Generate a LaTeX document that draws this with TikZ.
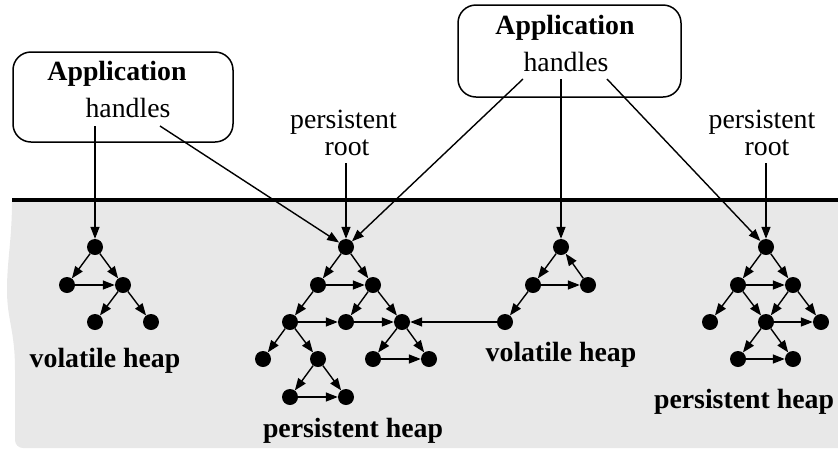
\documentclass[tikz,border=0pt]{standalone}
\usepackage{fontspec}
\setmainfont{Liberation Serif}
\usetikzlibrary{arrows.meta}
\definecolor{heapgray}{RGB}{232,232,232}
\begin{document}
\begin{tikzpicture}[x=1pt,y=-1pt,
  dot/.style={circle,fill=black,inner sep=0pt,minimum size=16pt},
  conn/.style={line width=1.4pt,-{Triangle[length=12pt,width=9pt]}},
  lbl/.style={font=\fontsize{27.8}{28}\selectfont,inner sep=0pt,anchor=base},
  blbl/.style={font=\fontsize{27.8}{28}\selectfont\bfseries,inner sep=0pt,anchor=base},
  appbox/.style={draw,line width=1.5pt,rounded corners=18pt,inner sep=0pt}]
\useasboundingbox (0,0) rectangle (838,451);
% gray region
\fill[heapgray] (12,200) -- (838,200) -- (838,448) -- (23,448)
  to[out=180,in=270] (15,440) -- (15,370)
  .. controls (15,330) and (7,320) .. (7,290)
  .. controls (7,260) and (12,240) .. (12,200) -- cycle;
\draw[line width=3.5pt] (12,200) -- (838,200);

% application boxes
\node[appbox,minimum width=220pt,minimum height=90pt] (app1) at (123,97) {};
\node[blbl] (app1t) at (117,80) {Application};
\node[lbl] (app1h) at (128,117.7) {handles};
\coordinate (h1a) at (95,126);
\coordinate (h1b) at (160,126);

\node[appbox,minimum width=223pt,minimum height=92pt] (app2) at (569.5,51) {};
\node[blbl] (app2t) at (565,34) {Application};
\node[lbl] (app2h) at (566,71) {handles};
\coordinate (h2a) at (523,79);
\coordinate (h2b) at (561,79);
\coordinate (h2c) at (607,79);

% persistent root labels
\node[lbl] (pr1a) at (343.5,128) {persistent};
\node[lbl] (pr1b) at (347,155) {root};
\coordinate (r1) at (346,163);
\node[lbl] (pr2a) at (762,128) {persistent};
\node[lbl] (pr2b) at (767,155) {root};
\coordinate (r2) at (766,163);

% volatile heap 1
\node[dot] (v1) at (95,247) {};
\node[dot] (v2) at (67,285) {};
\node[dot] (v3) at (123,285) {};
\node[dot] (v4) at (95,322) {};
\node[dot] (v5) at (151,322) {};

% persistent heap 1
\node[dot] (p1) at (346,247) {};
\node[dot] (p2) at (318,285) {};
\node[dot] (p3) at (373,285) {};
\node[dot] (p4) at (290,322) {};
\node[dot] (p5) at (346,322) {};
\node[dot] (p6) at (402,322) {};
\node[dot] (p7) at (263,359) {};
\node[dot] (p8) at (318,359) {};
\node[dot] (p9) at (373,359) {};
\node[dot] (p10) at (429,359) {};
\node[dot] (p11) at (290,397) {};
\node[dot] (p12) at (346,397) {};

% volatile heap 2
\node[dot] (w1) at (561,247) {};
\node[dot] (w2) at (533,285) {};
\node[dot] (w3) at (588,285) {};
\node[dot] (w4) at (505,322) {};

% persistent heap 2
\node[dot] (q1) at (766,247) {};
\node[dot] (q2) at (738,285) {};
\node[dot] (q3) at (793,285) {};
\node[dot] (q4) at (710,322) {};
\node[dot] (q5) at (766,322) {};
\node[dot] (q6) at (821,322) {};
\node[dot] (q7) at (738,359) {};
\node[dot] (q8) at (793,359) {};

% heap labels
\node[blbl] (lv1) at (105,367) {volatile heap};
\node[blbl] (lp1) at (353,437) {persistent heap};
\node[blbl] (lv2) at (561,361) {volatile heap};
\node[blbl] (lp2) at (744,408) {persistent heap};

% handle / root connectors
\draw[conn] (h1a) -- (v1);
\draw[conn] (h1b) -- (p1);
\draw[conn] (h2a) -- (p1);
\draw[conn] (h2b) -- (w1);
\draw[conn] (h2c) -- (q1);
\draw[conn] (r1) -- (p1);
\draw[conn] (r2) -- (q1);

% volatile heap 1 edges
\draw[conn] (v1) -- (v2);
\draw[conn] (v1) -- (v3);
\draw[conn] (v2) -- (v3);
\draw[conn] (v3) -- (v4);
\draw[conn] (v3) -- (v5);

% persistent heap 1 edges
\draw[conn] (p1) -- (p2);
\draw[conn] (p1) -- (p3);
\draw[conn] (p2) -- (p3);
\draw[conn] (p2) -- (p4);
\draw[conn] (p3) -- (p5);
\draw[conn] (p3) -- (p6);
\draw[conn] (p4) -- (p5);
\draw[conn] (p5) -- (p6);
\draw[conn] (p4) -- (p7);
\draw[conn] (p4) -- (p8);
\draw[conn] (p6) -- (p9);
\draw[conn] (p6) -- (p10);
\draw[conn] (p9) -- (p10);
\draw[conn] (p8) -- (p11);
\draw[conn] (p8) -- (p12);
\draw[conn] (p11) -- (p12);

% volatile heap 2 edges
\draw[conn] (w1) -- (w2);
\draw[conn] (w2) -- (w3);
\draw[conn] (w3) -- (w1);
\draw[conn] (w2) -- (w4);
\draw[conn] (w4) -- (p6);

% persistent heap 2 edges
\draw[conn] (q1) -- (q2);
\draw[conn] (q1) -- (q3);
\draw[conn] (q2) -- (q3);
\draw[conn] (q2) -- (q4);
\draw[conn] (q2) -- (q5);
\draw[conn] (q3) -- (q5);
\draw[conn] (q3) -- (q6);
\draw[conn] (q5) -- (q6);
\draw[conn] (q5) -- (q7);
\draw[conn] (q5) -- (q8);
\draw[conn] (q7) -- (q8);
\end{tikzpicture}
\end{document}
